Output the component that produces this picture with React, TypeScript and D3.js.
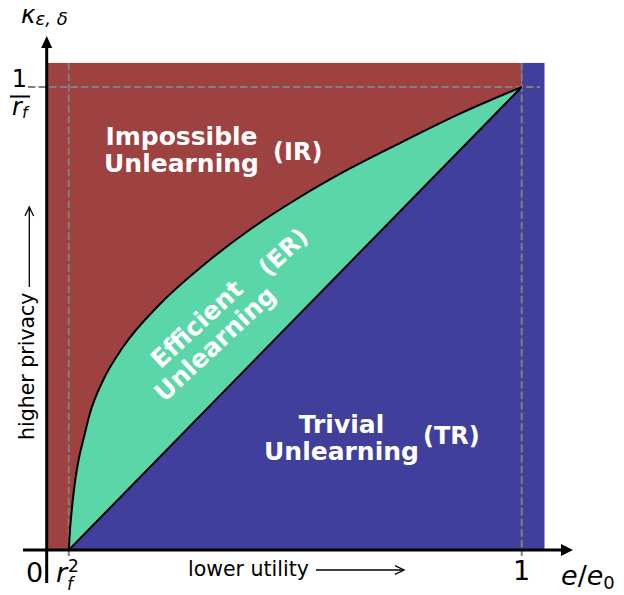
import React, { useEffect, useRef } from 'react'
import * as d3 from 'd3'

// boundary curve between efficient and impossible unlearning
const curveX = [0.0465, 0.049, 0.0522, 0.0564, 0.0617, 0.068, 0.0785, 0.0912, 0.1185, 0.1606, 0.2385, 0.3227, 0.428, 0.5333, 0.6385, 0.7438, 0.8701, 1]
const curveY = [0, 0.0432, 0.0799, 0.121, 0.162, 0.1987, 0.2441, 0.2959, 0.3661, 0.4384, 0.5313, 0.6091, 0.6922, 0.7624, 0.824, 0.879, 0.9425, 1]

const rf2 = 0.0465 // position of r_f^2 on the x axis
const xEnd = 1.048 // right edge of shaded area
const yEnd = 1.052 // top edge of shaded area

const RED = '#9e4141'
const BLUE = '#403f9b'
const GREEN = '#5ad6a8'
const FONT = 'DejaVu Sans'

export default function App() {
  const ref = useRef<SVGSVGElement>(null)

  useEffect(() => {
    const svg = d3.select(ref.current)
    svg.selectAll('*').remove()

    const x = d3.scaleLinear().domain([0, 1]).range([46.7, 521.7])
    const y = d3.scaleLinear().domain([0, 1]).range([550, 87])

    // regions
    svg.append('rect')
      .attr('x', x(0)).attr('y', y(yEnd))
      .attr('width', x(1) - x(0)).attr('height', y(0) - y(yEnd))
      .attr('fill', RED)
    svg.append('rect')
      .attr('x', x(1)).attr('y', y(yEnd))
      .attr('width', x(xEnd) - x(1)).attr('height', y(0) - y(yEnd))
      .attr('fill', BLUE)
    svg.append('path')
      .attr('d', d3.line()([[x(rf2), y(0)], [x(1), y(1)], [x(1), y(0)]]) + 'Z')
      .attr('fill', BLUE)

    const pts: [number, number][] = curveX.map((v, i) => [x(v), y(curveY[i])])
    const curveGen = d3.line().curve(d3.curveMonotoneX)
    svg.append('path')
      .attr('d', curveGen(pts) + `L${x(rf2)},${y(0)}Z`)
      .attr('fill', GREEN)

    // dashed guides
    const dash = (x1, y1, x2, y2) => svg.append('line')
      .attr('x1', x1).attr('y1', y1).attr('x2', x2).attr('y2', y2)
      .attr('stroke', '#808080').attr('stroke-width', 2)
      .attr('stroke-dasharray', '7.4,3.2')
    dash(28, y(1), 540, y(1))
    dash(x(rf2), y(yEnd), x(rf2), 556)
    dash(x(1), y(yEnd), x(1), 556)

    // boundary lines
    svg.append('path')
      .attr('d', curveGen(pts))
      .attr('fill', 'none').attr('stroke', 'black').attr('stroke-width', 2)
    svg.append('line')
      .attr('x1', x(rf2)).attr('y1', y(0)).attr('x2', x(1)).attr('y2', y(1))
      .attr('stroke', 'black').attr('stroke-width', 2)

    // axes with arrow heads
    svg.append('line').attr('x1', 23).attr('y1', y(0)).attr('x2', 562).attr('y2', y(0))
      .attr('stroke', 'black').attr('stroke-width', 3)
    svg.append('path').attr('d', `M573,${y(0)}L561,${y(0) - 6}L561,${y(0) + 6}Z`).attr('fill', 'black')
    svg.append('line').attr('x1', x(0)).attr('y1', 583).attr('x2', x(0)).attr('y2', 46)
      .attr('stroke', 'black').attr('stroke-width', 3)
    svg.append('path').attr('d', `M${x(0)},36L${x(0) - 5.5},48L${x(0) + 5.5},48Z`).attr('fill', 'black')

    // region labels
    const label = (lines, cx, y0, tag, tx, ty, g = svg) => {
      const t = g.append('text')
        .attr('font-family', FONT).attr('font-weight', 'bold').attr('font-size', 25)
        .attr('fill', 'white').attr('text-anchor', 'middle')
      lines.forEach((l, i) => t.append('tspan').attr('x', cx).attr('y', y0 + i * 27).text(l))
      g.append('text')
        .attr('font-family', FONT).attr('font-weight', 'bold').attr('font-size', 24)
        .attr('fill', 'white').attr('x', tx).attr('y', ty).text(tag)
    }
    label(['Impossible', 'Unlearning'], 181.5, 145, '(IR)', 273, 160)
    label(['Trivial', 'Unlearning'], 341.5, 433, '(TR)', 423, 444)
    const er = svg.append('g').attr('transform', 'translate(206,334) rotate(-43)')
    label(['Efficient', 'Unlearning'], 0, -5, '(ER)', 84, 1, er)

    // math labels
    const math = (tx, ty, size, anchor = 'start') => svg.append('text')
      .attr('x', tx).attr('y', ty).attr('font-family', FONT).attr('font-size', size)
      .attr('text-anchor', anchor)

    const kappa = math(21, 23, 24.5)
    kappa.append('tspan').attr('font-style', 'italic').text('κ')
    kappa.append('tspan').attr('font-style', 'italic').attr('font-size', 18).attr('dy', 2).text('ε, δ')

    math(19.5, 87, 24, 'middle').text('1')
    svg.append('line').attr('x1', 10).attr('x2', 30).attr('y1', 96.5).attr('y2', 96.5)
      .attr('stroke', 'black').attr('stroke-width', 2)
    const rf = math(12, 115, 24)
    rf.append('tspan').attr('font-style', 'italic').text('r')
    rf.append('tspan').attr('font-style', 'italic').attr('font-size', 16).attr('dy', 3).text('f')

    math(26, 582, 27).text('0')
    math(56, 582, 27).attr('font-style', 'italic').text('r')
    math(68, 572, 17).text('2')
    math(67, 590, 17).attr('font-style', 'italic').text('f')
    math(x(1), 580, 27, 'middle').text('1')

    const ee = math(561, 585, 27)
    ee.append('tspan').attr('font-style', 'italic').text('e')
    ee.append('tspan').text('/')
    ee.append('tspan').attr('font-style', 'italic').text('e')
    ee.append('tspan').attr('font-size', 18).attr('dy', 4).text('0')

    // direction hints
    svg.append('text').attr('font-family', FONT).attr('font-size', 20.5)
      .attr('transform', 'translate(34,440) rotate(-90)').text('higher privacy')
    svg.append('line').attr('x1', 29.3).attr('x2', 29.3).attr('y1', 287).attr('y2', 207)
      .attr('stroke', 'black').attr('stroke-width', 1.3)
    svg.append('path').attr('d', 'M25,216L29.3,207L33.6,216')
      .attr('fill', 'none').attr('stroke', 'black').attr('stroke-width', 1.3)

    svg.append('text').attr('font-family', FONT).attr('font-size', 20.5)
      .attr('x', 188).attr('y', 576).text('lower utility')
    svg.append('line').attr('x1', 316).attr('x2', 404).attr('y1', 570).attr('y2', 570)
      .attr('stroke', 'black').attr('stroke-width', 1.3)
    svg.append('path').attr('d', 'M395,565.7L404,570L395,574.3')
      .attr('fill', 'none').attr('stroke', 'black').attr('stroke-width', 1.3)
  }, [])

  return (
    <svg ref={ref} width={624} height={595}
      style={{ position: 'absolute', left: 0, top: 0, background: 'white' }} />
  )
}
